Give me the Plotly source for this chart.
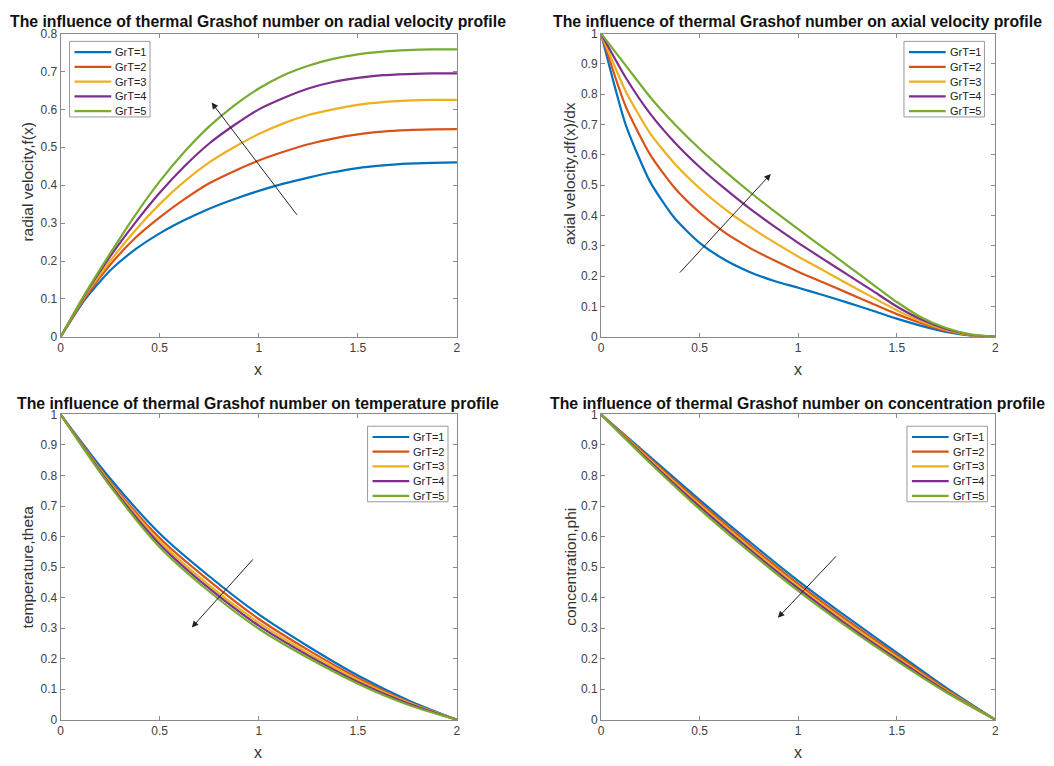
import plotly.graph_objects as go

# ---------------- data ----------------
labels = ["GrT=1", "GrT=2", "GrT=3", "GrT=4", "GrT=5"]
colors = ["#0072BD", "#D95319", "#EDB120", "#7E2F8E", "#77AC30"]

x_vel = [0, 0.125, 0.25, 0.375, 0.5, 0.625, 0.75, 0.875, 1.0,
         1.125, 1.25, 1.375, 1.5, 1.625, 1.75, 1.875, 2.0]
radial_f = [
    [0, 0.100, 0.175, 0.230, 0.273, 0.308, 0.338, 0.363, 0.385,
     0.404, 0.420, 0.434, 0.445, 0.452, 0.457, 0.459, 0.460],
    [0, 0.105, 0.190, 0.260, 0.315, 0.363, 0.405, 0.437, 0.465,
     0.488, 0.508, 0.523, 0.534, 0.541, 0.545, 0.547, 0.548],
    [0, 0.110, 0.200, 0.280, 0.350, 0.410, 0.460, 0.500, 0.535,
     0.563, 0.585, 0.600, 0.612, 0.619, 0.623, 0.625, 0.625],
    [0, 0.113, 0.212, 0.300, 0.380, 0.450, 0.510, 0.558, 0.600,
     0.630, 0.655, 0.672, 0.683, 0.690, 0.693, 0.695, 0.695],
    [0, 0.115, 0.220, 0.320, 0.410, 0.488, 0.555, 0.610, 0.655,
     0.690, 0.715, 0.733, 0.745, 0.752, 0.756, 0.758, 0.758],
]
axial_df = [
    [1, 0.700, 0.510, 0.390, 0.310, 0.255, 0.215, 0.185, 0.162,
     0.138, 0.113, 0.087, 0.060, 0.036, 0.016, 0.004, 0],
    [1, 0.760, 0.600, 0.490, 0.410, 0.345, 0.295, 0.253, 0.215,
     0.180, 0.145, 0.110, 0.075, 0.045, 0.020, 0.005, 0],
    [1, 0.810, 0.670, 0.570, 0.490, 0.423, 0.365, 0.313, 0.265,
     0.220, 0.175, 0.131, 0.088, 0.051, 0.023, 0.006, 0],
    [1, 0.855, 0.735, 0.640, 0.560, 0.490, 0.425, 0.366, 0.310,
     0.257, 0.205, 0.153, 0.100, 0.057, 0.026, 0.007, 0],
    [1, 0.895, 0.790, 0.700, 0.620, 0.548, 0.480, 0.416, 0.355,
     0.295, 0.235, 0.175, 0.115, 0.064, 0.029, 0.008, 0],
]

x_tc = [0, 0.25, 0.5, 0.75, 1.0, 1.25, 1.5, 1.75, 2.0]
temperature = [
    [1.0, 0.790, 0.610, 0.470, 0.345, 0.240, 0.145, 0.065, 0],
    [1.0, 0.780, 0.595, 0.455, 0.330, 0.228, 0.137, 0.060, 0],
    [1.0, 0.775, 0.585, 0.440, 0.318, 0.218, 0.130, 0.057, 0],
    [1.0, 0.770, 0.575, 0.430, 0.308, 0.210, 0.124, 0.054, 0],
    [1.0, 0.765, 0.565, 0.420, 0.298, 0.202, 0.118, 0.050, 0],
]
concentration = [
    [1.0, 0.860, 0.720, 0.585, 0.455, 0.335, 0.220, 0.105, 0],
    [1.0, 0.855, 0.712, 0.575, 0.445, 0.325, 0.212, 0.100, 0],
    [1.0, 0.850, 0.705, 0.567, 0.437, 0.317, 0.205, 0.096, 0],
    [1.0, 0.845, 0.698, 0.560, 0.430, 0.310, 0.199, 0.093, 0],
    [1.0, 0.840, 0.690, 0.552, 0.422, 0.303, 0.193, 0.090, 0],
]

x_ticks = [0, 0.5, 1, 1.5, 2]
x_ticktext = ["0", "0.5", "1", "1.5", "2"]
y_ticks_08 = [0, 0.1, 0.2, 0.3, 0.4, 0.5, 0.6, 0.7, 0.8]
y_ticks_1 = [0, 0.1, 0.2, 0.3, 0.4, 0.5, 0.6, 0.7, 0.8, 0.9, 1]

titles = [
    "The influence of thermal Grashof number on radial velocity profile",
    "The influence of thermal Grashof number on axial velocity profile",
    "The influence of thermal Grashof number on temperature profile",
    "The influence of thermal Grashof number on concentration profile",
]
ylabels = ["radial velocity,f(x)", "axial velocity,df(x)/dx",
           "temperature,theta", "concentration,phi"]

# ---------------- figure ----------------
W, H = 1054, 766
FONT = "Liberation Sans, Arial, sans-serif"


def px(x):
    return x / W


def py(y):
    return 1 - y / H


fig = go.Figure()

panels = [
    dict(xs=x_vel, ys=radial_f, xa="x", ya="y", sm=0.6),
    dict(xs=x_vel, ys=axial_df, xa="x2", ya="y2", sm=0.6),
    dict(xs=x_tc, ys=temperature, xa="x3", ya="y3", sm=1.0),
    dict(xs=x_tc, ys=concentration, xa="x4", ya="y4", sm=1.0),
]
for p in panels:
    for lab, col, yv in zip(labels, colors, p["ys"]):
        fig.add_trace(go.Scatter(
            x=p["xs"], y=yv, mode="lines", name=lab,
            line=dict(color=col, width=2.2, shape="spline", smoothing=p["sm"]),
            xaxis=p["xa"], yaxis=p["ya"], showlegend=False))

# pixel geometry of plot boxes: (left, right, top, bottom)
boxes = [(58, 457, 27, 336), (602, 999, 27, 336),
         (58, 457, 415, 726), (602, 999, 415, 726)]
yranges = [[0, 0.8], [0, 1], [0, 1], [0, 1]]
yticks = [y_ticks_08, y_ticks_1, y_ticks_1, y_ticks_1]

axis_common = dict(showline=True, linecolor="#8a8a8a", linewidth=1, mirror="ticks",
                   ticks="inside", ticklen=4, tickcolor="#8a8a8a",
                   showgrid=False, zeroline=False,
                   tickfont=dict(family=FONT, size=12, color="#404040"))
layout_axes = {}
for i, ((l, r, t, b), yr, yt) in enumerate(zip(boxes, yranges, yticks)):
    sfx = "" if i == 0 else str(i + 1)
    layout_axes["xaxis" + sfx] = dict(
        domain=[px(l), px(r)], range=[0, 2], anchor="y" + sfx,
        tickvals=x_ticks, ticktext=x_ticktext, **axis_common)
    layout_axes["yaxis" + sfx] = dict(
        domain=[py(b), py(t)], range=yr, anchor="x" + sfx,
        tickvals=yt, ticktext=[("%g" % v) for v in yt], **axis_common)
fig.update_layout(**layout_axes)

annotations = []
shapes = []
title_pos = [(257, 15), (800, 15), (257, 404), (800, 404)]
for (cx, cy), txt in zip(title_pos, titles):
    annotations.append(dict(text="<b>" + txt + "</b>", x=px(cx), y=py(cy),
                            xref="paper", yref="paper", showarrow=False,
                            xanchor="center", yanchor="middle",
                            font=dict(family=FONT, size=15.8, color="#111111")))
ylab_pos = [(25, 178), (571, 170), (25, 570), (571, 570)]
for (cx, cy), txt in zip(ylab_pos, ylabels):
    annotations.append(dict(text=txt, x=px(cx), y=py(cy), xref="paper", yref="paper",
                            showarrow=False, textangle=-90, xanchor="center", yanchor="middle",
                            font=dict(family=FONT, size=15.5, color="#333333")))
xlab_pos = [(257, 369), (800, 369), (257, 759), (800, 759)]
for cx, cy in xlab_pos:
    annotations.append(dict(text="x", x=px(cx), y=py(cy), xref="paper", yref="paper",
                            showarrow=False, xanchor="center", yanchor="middle",
                            font=dict(family=FONT, size=16, color="#333333")))

# arrows (data coordinates): tail -> head
arrows = [("x", "y", 1.198, 0.318, 0.762, 0.618),
          ("x2", "y2", 0.393, 0.207, 0.861, 0.537),
          ("x3", "y3", 0.977, 0.530, 0.662, 0.302),
          ("x4", "y4", 1.199, 0.540, 0.897, 0.334)]
for xa, ya, tx, ty, hx, hy in arrows:
    annotations.append(dict(x=hx, y=hy, ax=tx, ay=ty, xref=xa, yref=ya,
                            axref=xa, ayref=ya, text="", showarrow=True,
                            arrowhead=2, arrowsize=1.3, arrowwidth=1, arrowcolor="#222222"))

# legends (MATLAB-style boxes), top-left corners in pixels
leg_pos = [(67, 35), (907, 35), (367, 427), (910, 427)]
LW, LH, ROW = 81, 77, 15
for lx, ly in leg_pos:
    shapes.append(dict(type="rect", xref="paper", yref="paper",
                       x0=px(lx), x1=px(lx + LW), y0=py(ly + LH), y1=py(ly),
                       line=dict(color="#9a9a9a", width=1), fillcolor="white", layer="above"))
    for k, (lab, col) in enumerate(zip(labels, colors)):
        yy = ly + 11 + ROW * k
        shapes.append(dict(type="line", xref="paper", yref="paper",
                           x0=px(lx + 5), x1=px(lx + 42), y0=py(yy), y1=py(yy),
                           line=dict(color=col, width=2.2), layer="above"))
        annotations.append(dict(text=lab, x=px(lx + 44), y=py(yy), xref="paper", yref="paper",
                                showarrow=False, xanchor="left", yanchor="middle",
                                font=dict(family=FONT, size=11, color="#222222")))

fig.update_layout(width=W, height=H, margin=dict(l=0, r=0, t=0, b=0),
                  paper_bgcolor="white", plot_bgcolor="white", showlegend=False,
                  annotations=annotations, shapes=shapes)

fig.write_html("out.html")
